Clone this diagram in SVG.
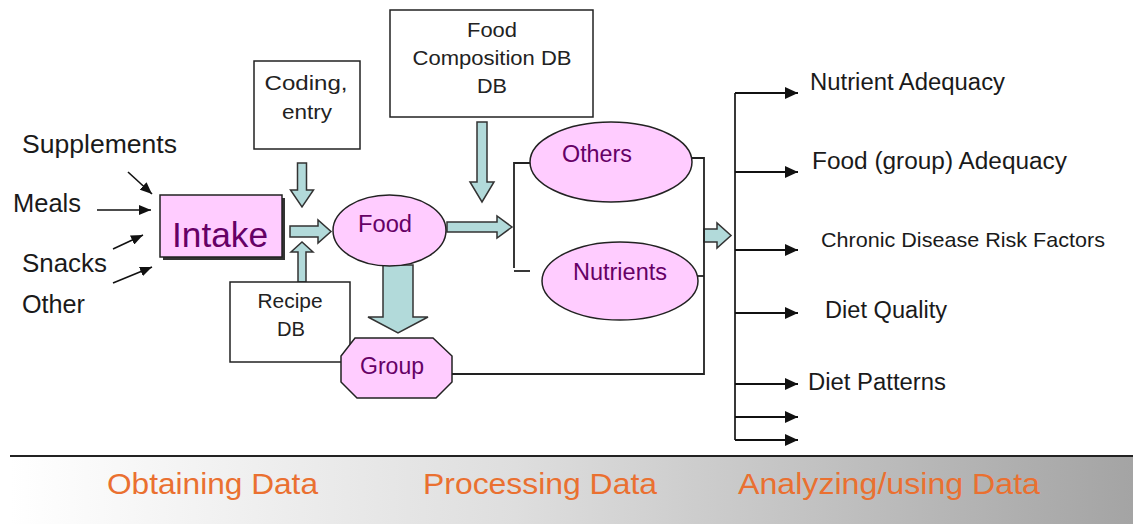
<svg xmlns="http://www.w3.org/2000/svg" width="1133" height="524" viewBox="0 0 1133 524">
  <defs>
    <linearGradient id="band" x1="0" y1="0" x2="1" y2="0">
      <stop offset="0" stop-color="#ffffff"/>
      <stop offset="0.45" stop-color="#dedede"/>
      <stop offset="1" stop-color="#a4a4a4"/>
    </linearGradient>
    <marker id="head" viewBox="0 0 13 12" refX="13" refY="6" markerWidth="13" markerHeight="12" markerUnits="userSpaceOnUse" orient="auto">
      <path d="M0,0 L13,6 L0,12 Z" fill="#111"/>
    </marker>
    <marker id="headS" viewBox="0 0 12 10" refX="12" refY="5" markerWidth="12" markerHeight="10" markerUnits="userSpaceOnUse" orient="auto">
      <path d="M0,0 L12,5 L0,10 Z" fill="#111"/>
    </marker>
  </defs>
  <style>
    .lbl { font-family: "Liberation Sans", Arial, sans-serif; fill: #1a1a1a; }
    .big { font-size: 25px; }
    .out { font-size: 23.5px; }
    .box { fill: #ffffff; stroke: #222; stroke-width: 1.5; }
    .pink { fill: #ffccff; stroke: #222; stroke-width: 1.5; }
    .ptxt { font-family: "Liberation Sans", Arial, sans-serif; fill: #660066; font-size: 23px; text-anchor: middle; }
    .ptxt.huge { font-size: 35px; }
    .btxt { font-family: "Liberation Sans", Arial, sans-serif; fill: #222; font-size: 21px; text-anchor: middle; }
    .blk { fill: #b2dada; stroke: #333; stroke-width: 1.5; stroke-linejoin: miter; }
    .wire { fill: none; stroke: #222; stroke-width: 1.8; }
    .arr { fill: none; stroke: #111; stroke-width: 2; marker-end: url(#head); }
    .arrS { fill: none; stroke: #111; stroke-width: 1.6; marker-end: url(#headS); }
    .phase { font-family: "Liberation Sans", Arial, sans-serif; fill: #ea7030; font-size: 29px; }
  </style>

  <rect width="1133" height="524" fill="#ffffff"/>

  <!-- phase band along the bottom -->
  <g id="phase-band">
    <rect x="10" y="457" width="1123" height="67" fill="url(#band)"/>
    <line x1="10" y1="456" x2="1133" y2="456" stroke="#222" stroke-width="2"/>
    <text class="phase" x="107" y="494" textLength="211" lengthAdjust="spacingAndGlyphs">Obtaining Data</text>
    <text class="phase" x="423" y="494" textLength="234" lengthAdjust="spacingAndGlyphs">Processing Data</text>
    <text class="phase" x="738" y="494" textLength="302" lengthAdjust="spacingAndGlyphs">Analyzing/using Data</text>
  </g>

  <!-- intake sources -->
  <g id="sources">
    <text class="lbl big" x="22" y="153" textLength="155" lengthAdjust="spacingAndGlyphs">Supplements</text>
    <text class="lbl big" x="13" y="212" textLength="68" lengthAdjust="spacingAndGlyphs">Meals</text>
    <text class="lbl big" x="22" y="272" textLength="85" lengthAdjust="spacingAndGlyphs">Snacks</text>
    <text class="lbl big" x="22" y="313" textLength="63" lengthAdjust="spacingAndGlyphs">Other</text>
  </g>

  <!-- connectors -->
  <g id="connectors">
    <line class="arrS" x1="128" y1="172" x2="152" y2="194"/>
    <line class="arrS" x1="97" y1="210" x2="151" y2="210"/>
    <line class="arrS" x1="113" y1="249" x2="143" y2="235"/>
    <line class="arrS" x1="113" y1="283" x2="152" y2="267"/>

    <!-- block arrows -->
    <path class="blk" d="M297.5,163 H306.5 V190 H313.5 L302,207 L290.5,190 H297.5 Z"/>
    <path class="blk" d="M298,282 V252 H291 L302,242 L313,252 H306 V282 Z"/>
    <path class="blk" d="M290,226 H318 V220 L331,231.5 L318,243 V237 H290 Z"/>
    <path class="blk" d="M447,222 H497 V216 L512,227 L497,238 V232 H447 Z"/>
    <path class="blk" d="M477,122 H487 V182 H494 L482,202 L470,182 H477 Z"/>
    <path class="blk" d="M383,265 H413 V317 H428 L398,333 L368,317 H383 Z"/>
    <path class="blk" d="M704,229 H717 V223 L731,235.5 L717,248 V242 H704 Z"/>

    <!-- brackets around processed outputs -->
    <path class="wire" d="M532,163 H514 V268"/>
    <path class="wire" d="M514,271 H530"/>
    <path class="wire" d="M691,158 H704 V375"/>
    <path class="wire" d="M697,276 H704"/>
    <path class="wire" d="M452,374 H704"/>

    <!-- analysis fan-out -->
    <path class="wire" d="M735,93 V440"/>
    <line class="arr" x1="735" y1="93" x2="798" y2="93"/>
    <line class="arr" x1="735" y1="172" x2="798" y2="172"/>
    <line class="arr" x1="735" y1="250" x2="798" y2="250"/>
    <line class="arr" x1="735" y1="313" x2="798" y2="313"/>
    <line class="arr" x1="735" y1="384" x2="798" y2="384"/>
    <line class="arr" x1="735" y1="417" x2="798" y2="417" stroke-width="1.2"/>
    <line class="arr" x1="735" y1="440" x2="798" y2="440"/>
  </g>

  <g id="intake">
    <rect x="163" y="198" width="122" height="62" fill="#333"/>
    <rect class="pink" x="160" y="195" width="122" height="62"/>
    <text class="ptxt huge" x="220" y="247" textLength="96" lengthAdjust="spacingAndGlyphs">Intake</text>
  </g>

  <g id="coding-entry">
    <rect class="box" x="254" y="61" width="106" height="88"/>
    <text class="btxt" x="306" y="90" textLength="83" lengthAdjust="spacingAndGlyphs">Coding,</text>
    <text class="btxt" x="307" y="119" textLength="50" lengthAdjust="spacingAndGlyphs">entry</text>
  </g>

  <g id="recipe-db">
    <rect class="box" x="230" y="282" width="120" height="80"/>
    <text class="btxt" x="290" y="308" textLength="65" lengthAdjust="spacingAndGlyphs">Recipe</text>
    <text class="btxt" x="291" y="336" textLength="28" lengthAdjust="spacingAndGlyphs">DB</text>
  </g>

  <g id="food-composition-db">
    <rect class="box" x="390" y="10" width="203" height="107"/>
    <text class="btxt" x="492" y="37" textLength="50" lengthAdjust="spacingAndGlyphs">Food</text>
    <text class="btxt" x="492" y="65" textLength="159" lengthAdjust="spacingAndGlyphs">Composition DB</text>
    <text class="btxt" x="492" y="93" textLength="30" lengthAdjust="spacingAndGlyphs">DB</text>
  </g>

  <g id="food">
    <ellipse class="pink" cx="389.5" cy="230.5" rx="56.5" ry="35.5"/>
    <text class="ptxt" x="385" y="232" textLength="54" lengthAdjust="spacingAndGlyphs">Food</text>
  </g>

  <g id="group">
    <polygon class="pink" points="355,338 433,338 452,356 452,382 436,398 357,398 341,382 341,356"/>
    <text class="ptxt" x="392" y="374" textLength="64" lengthAdjust="spacingAndGlyphs">Group</text>
  </g>

  <g id="others">
    <ellipse class="pink" cx="611" cy="162" rx="81" ry="40"/>
    <text class="ptxt" x="597" y="162" textLength="70" lengthAdjust="spacingAndGlyphs">Others</text>
  </g>

  <g id="nutrients">
    <ellipse class="pink" cx="620" cy="281" rx="78" ry="39"/>
    <text class="ptxt" x="620" y="280" textLength="94" lengthAdjust="spacingAndGlyphs">Nutrients</text>
  </g>

  <g id="outcomes">
    <text class="lbl out" x="810" y="90" textLength="195" lengthAdjust="spacingAndGlyphs">Nutrient Adequacy</text>
    <text class="lbl out" x="812" y="169" textLength="255" lengthAdjust="spacingAndGlyphs">Food (group) Adequacy</text>
    <text class="lbl" font-size="21" x="821" y="247" textLength="284" lengthAdjust="spacingAndGlyphs">Chronic Disease Risk Factors</text>
    <text class="lbl out" x="825" y="318" textLength="122" lengthAdjust="spacingAndGlyphs">Diet Quality</text>
    <text class="lbl out" x="808" y="390" textLength="138" lengthAdjust="spacingAndGlyphs">Diet Patterns</text>
  </g>
</svg>
